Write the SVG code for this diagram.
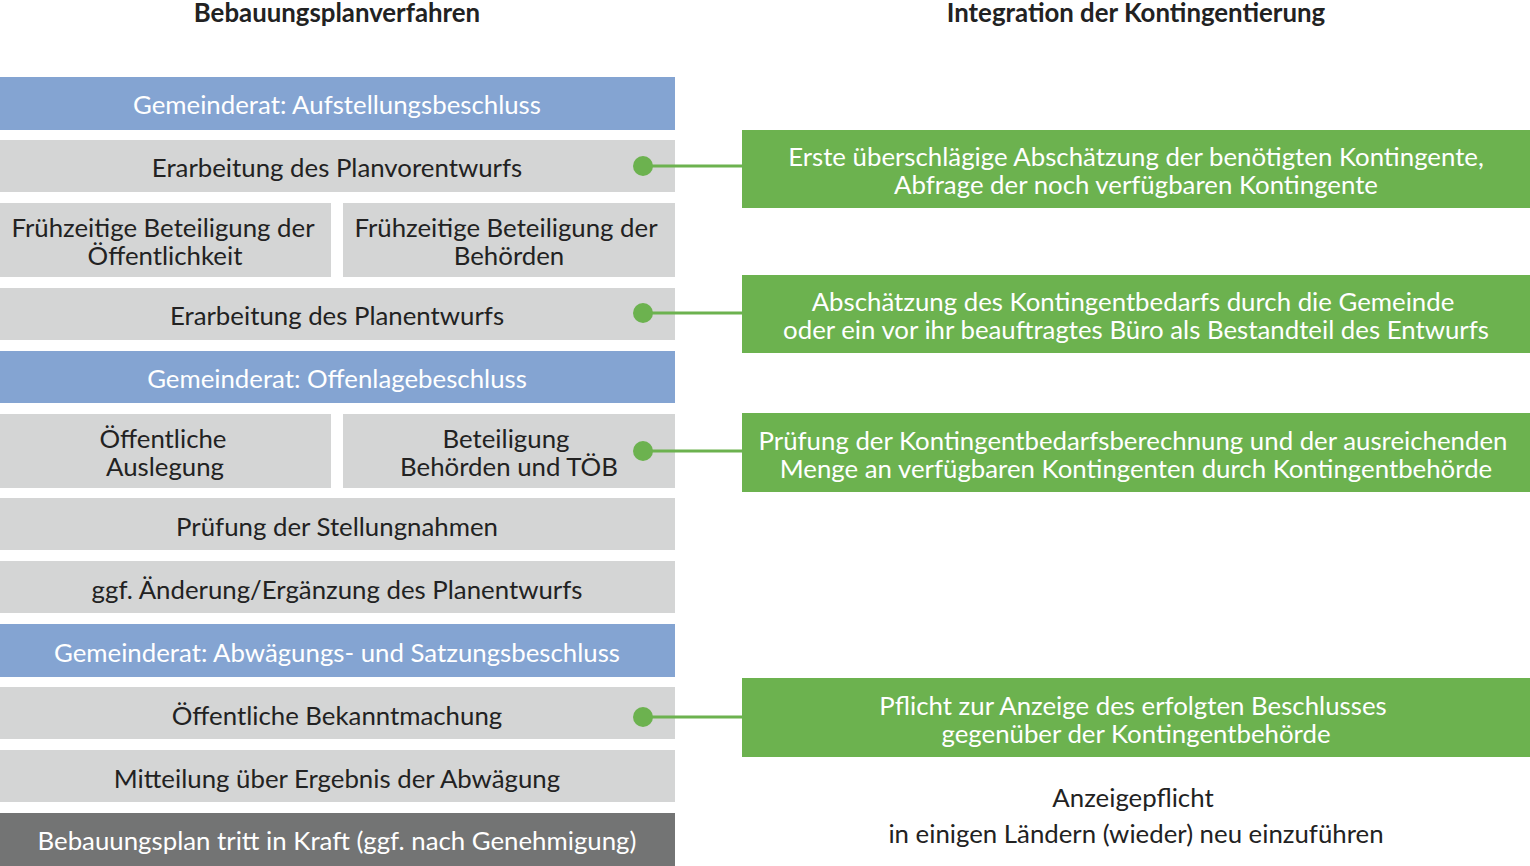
<svg xmlns="http://www.w3.org/2000/svg" width="1530" height="866" viewBox="0 0 1530 866">
<style>
text{font-family:Lato,"Open Sans",sans-serif;font-size:25.8px;text-anchor:middle}
.t{font-weight:bold;fill:#222}
.b{fill:#84a4d2}.g{fill:#d4d5d5}.d{fill:#737474}.gr{fill:#6cb24f}
.w{fill:#fff}.k{fill:#222}
.c{stroke:#6cb24f;stroke-width:3}
</style>
<rect width="1530" height="866" fill="#fff"/>
<text class="t" x="337" y="22">Bebauungsplanverfahren</text>
<text class="t" x="1136" y="22">Integration der Kontingentierung</text>
<g id="n1"><rect class="b" x="0" y="77" width="675" height="53"/><text class="w" x="337" y="114">Gemeinderat: Aufstellungsbeschluss</text></g>
<g id="n2"><rect class="g" x="0" y="140" width="675" height="52"/><text class="k" x="337" y="177">Erarbeitung des Planvorentwurfs</text></g>
<g id="n3"><rect class="g" x="0" y="203" width="331" height="74"/><text class="k" x="163" y="237">Frühzeitige Beteiligung der</text><text class="k" x="165" y="265">Öffentlichkeit</text></g>
<g id="n4"><rect class="g" x="343" y="203" width="332" height="74"/><text class="k" x="506" y="237">Frühzeitige Beteiligung der</text><text class="k" x="509" y="265">Behörden</text></g>
<g id="n5"><rect class="g" x="0" y="288" width="675" height="52"/><text class="k" x="337" y="325">Erarbeitung des Planentwurfs</text></g>
<g id="n6"><rect class="b" x="0" y="351" width="675" height="52"/><text class="w" x="337" y="388">Gemeinderat: Offenlagebeschluss</text></g>
<g id="n7"><rect class="g" x="0" y="414" width="331" height="74"/><text class="k" x="163" y="448">Öffentliche</text><text class="k" x="165" y="476">Auslegung</text></g>
<g id="n8"><rect class="g" x="343" y="414" width="332" height="74"/><text class="k" x="506" y="448">Beteiligung</text><text class="k" x="509" y="476">Behörden und TÖB</text></g>
<g id="n9"><rect class="g" x="0" y="498" width="675" height="52"/><text class="k" x="337" y="536">Prüfung der Stellungnahmen</text></g>
<g id="n10"><rect class="g" x="0" y="561" width="675" height="52"/><text class="k" x="337" y="599">ggf. Änderung/Ergänzung des Planentwurfs</text></g>
<g id="n11"><rect class="b" x="0" y="624" width="675" height="53"/><text class="w" x="337" y="662">Gemeinderat: Abwägungs- und Satzungsbeschluss</text></g>
<g id="n12"><rect class="g" x="0" y="687" width="675" height="52"/><text class="k" x="337" y="725">Öffentliche Bekanntmachung</text></g>
<g id="n13"><rect class="g" x="0" y="750" width="675" height="52"/><text class="k" x="337" y="788">Mitteilung über Ergebnis der Abwägung</text></g>
<g id="n14"><rect class="d" x="0" y="813" width="675" height="53"/><text class="w" x="337" y="850">Bebauungsplan tritt in Kraft (ggf. nach Genehmigung)</text></g>
<g id="r1"><rect class="gr" x="742" y="130" width="788" height="78"/><text class="w" x="1136" y="166">Erste überschlägige Abschätzung der benötigten Kontingente,</text><text class="w" x="1136" y="194">Abfrage der noch verfügbaren Kontingente</text></g>
<g id="r2"><rect class="gr" x="742" y="275" width="788" height="78"/><text class="w" x="1133" y="311">Abschätzung des Kontingentbedarfs durch die Gemeinde</text><text class="w" x="1136" y="339">oder ein vor ihr beauftragtes Büro als Bestandteil des Entwurfs</text></g>
<g id="r3"><rect class="gr" x="742" y="413" width="788" height="79"/><text class="w" x="1133" y="450">Prüfung der Kontingentbedarfsberechnung und der ausreichenden</text><text class="w" x="1136" y="478">Menge an verfügbaren Kontingenten durch Kontingentbehörde</text></g>
<g id="r4"><rect class="gr" x="742" y="678" width="788" height="79"/><text class="w" x="1133" y="715">Pflicht zur Anzeige des erfolgten Beschlusses</text><text class="w" x="1136" y="743">gegenüber der Kontingentbehörde</text></g>
<g id="note"><text class="k" x="1133" y="807">Anzeigepflicht</text><text class="k" x="1136" y="843">in einigen Ländern (wieder) neu einzuführen</text></g>
<g id="connectors">
<line class="c" x1="643" y1="166" x2="742" y2="166"/><circle cx="643" cy="166" r="10" fill="#6cb24f"/>
<line class="c" x1="643" y1="313" x2="742" y2="313"/><circle cx="643" cy="313" r="10" fill="#6cb24f"/>
<line class="c" x1="643" y1="451" x2="742" y2="451"/><circle cx="643" cy="451" r="10" fill="#6cb24f"/>
<line class="c" x1="643" y1="717" x2="742" y2="717"/><circle cx="643" cy="717" r="10" fill="#6cb24f"/>
</g>
</svg>
